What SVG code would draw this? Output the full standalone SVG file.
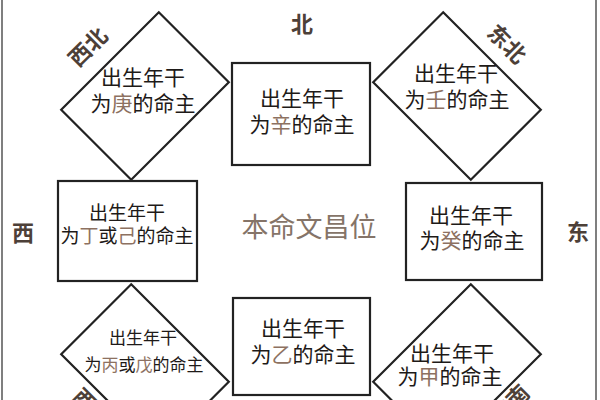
<svg xmlns="http://www.w3.org/2000/svg" width="600" height="400" viewBox="0 0 600 400">
<style>
.shape{fill:#fff;stroke:#222;stroke-width:2.2}
.t{font-family:"Noto Sans CJK SC","Noto Sans",sans-serif;fill:#1e1a18;text-anchor:middle}
.hl{fill:#8d7161}
.dir{font-family:"Noto Sans CJK SC","Noto Sans",sans-serif;font-weight:bold;font-size:22px;fill:#4d4038;text-anchor:middle}
.center{font-family:"Noto Sans CJK SC","Noto Sans",sans-serif;font-size:27px;fill:#857468;text-anchor:middle}
.frame{stroke:#555;stroke-width:1.5}
</style>
<rect x="0" y="0" width="600" height="400" fill="#fff"/>
<line class="frame" x1="2" y1="0" x2="2" y2="400"/>
<line class="frame" x1="596" y1="0" x2="596" y2="400"/>
<g id="connectors"></g>
<g id="nw">
<polygon class="shape" points="158.8,12.2 228.8,82.2 131.2,179.8 61.2,109.8"/>
<text class="t" font-size="21" x="143" y="85">出生年干</text>
<text class="t" font-size="21" x="143" y="111">为<tspan class="hl">庚</tspan>的命主</text>
</g>
<g id="n">
<rect class="shape" x="232" y="63" width="138" height="102"/>
<text class="t" font-size="21" x="302" y="106">出生年干</text>
<text class="t" font-size="21" x="302" y="132">为<tspan class="hl">辛</tspan>的命主</text>
</g>
<g id="ne">
<polygon class="shape" points="443.2,12.2 540.8,109.8 470.8,179.8 373.2,82.2"/>
<text class="t" font-size="21" x="456" y="81">出生年干</text>
<text class="t" font-size="21" x="457" y="107">为<tspan class="hl">壬</tspan>的命主</text>
</g>
<g id="w">
<rect class="shape" x="58" y="181" width="139" height="100"/>
<text class="t" font-size="19" x="127" y="220">出生年干</text>
<text class="t" font-size="19" x="127" y="243">为<tspan class="hl">丁</tspan>或<tspan class="hl">己</tspan>的命主</text>
</g>
<g id="e">
<rect class="shape" x="406" y="183" width="136" height="97"/>
<text class="t" font-size="21" x="471" y="223">出生年干</text>
<text class="t" font-size="21" x="472" y="248">为<tspan class="hl">癸</tspan>的命主</text>
</g>
<g id="sw">
<polygon class="shape" points="131.2,284.2 228.8,381.8 158.8,451.8 61.2,354.2"/>
<text class="t" font-size="17" x="143" y="344">出生年干</text>
<text class="t" font-size="17" x="144" y="371">为<tspan class="hl">丙</tspan>或<tspan class="hl">戊</tspan>的命主</text>
</g>
<g id="s">
<rect class="shape" x="233" y="298" width="137" height="97"/>
<text class="t" font-size="21" x="303" y="336">出生年干</text>
<text class="t" font-size="21" x="303" y="362">为<tspan class="hl">乙</tspan>的命主</text>
</g>
<g id="se">
<polygon class="shape" points="470.8,284.2 540.8,354.2 443.2,451.8 373.2,381.8"/>
<text class="t" font-size="21" x="452" y="361">出生年干</text>
<text class="t" font-size="21" x="450" y="384">为<tspan class="hl">甲</tspan>的命主</text>
</g>
<g id="labels">
<text class="dir" x="302" y="32">北</text>
<text class="dir" x="23" y="241">西</text>
<text class="dir" x="578" y="240">东</text>
<text class="dir" transform="translate(88,47) rotate(-45)" y="8">西北</text>
<text class="dir" transform="translate(507,44) rotate(45)" y="8">东北</text>
<text class="dir" transform="translate(92,408) rotate(45)" y="8">西南</text>
<text class="dir" transform="translate(510,404) rotate(-45)" y="8">东南</text>
<text class="center" x="309" y="237">本命文昌位</text>
</g>
</svg>
